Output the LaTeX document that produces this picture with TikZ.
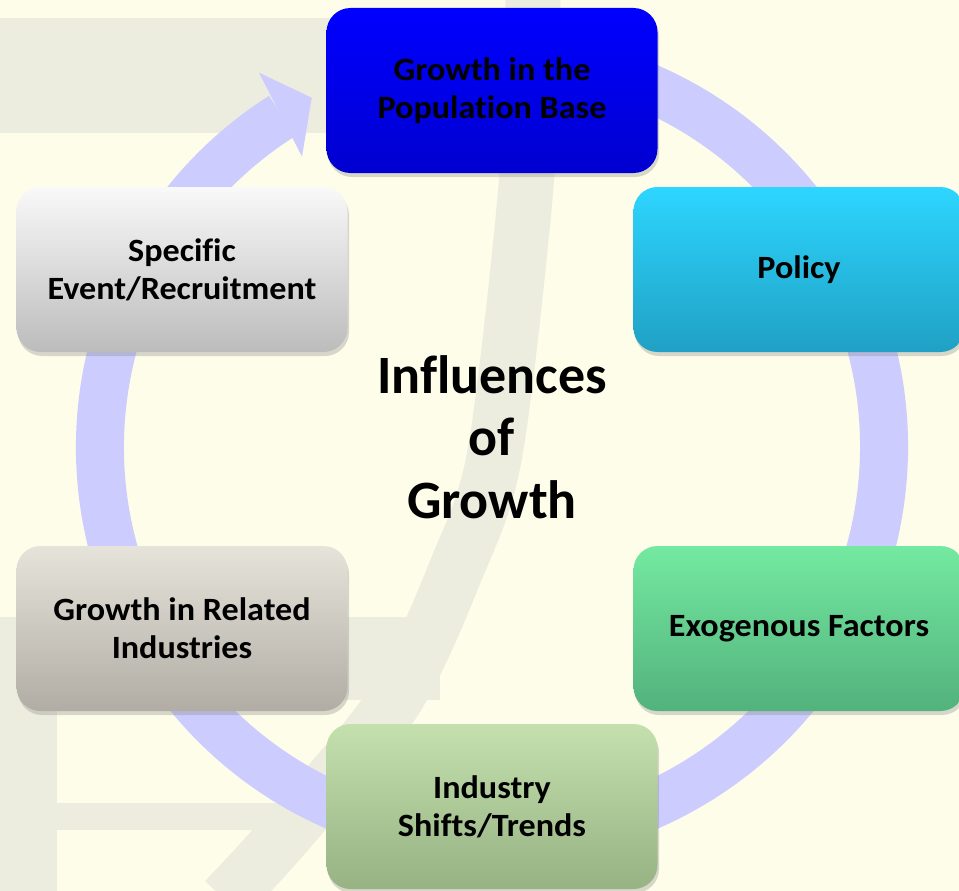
\documentclass[tikz,border=0pt]{standalone}
\usepackage{fontspec}
\setmainfont{Carlito}[Ligatures=NoCommon]
\newfontfamily\boxfont{Carlito}[Ligatures=NoCommon, FakeStretch=1.05]
\usetikzlibrary{shadows,calc}

\definecolor{paper}{HTML}{FDFDE9}
\definecolor{wmark}{HTML}{EDEDDF}
\definecolor{ringblue}{HTML}{CCCCFF}

\tikzset{
  factor/.style={rounded corners=24pt, minimum width=331pt, minimum height=165pt,
    inner sep=0pt, align=center, font=\boxfont\fontsize{32.5}{38}\selectfont\bfseries,
    drop shadow={opacity=0.3, shadow xshift=1.5pt, shadow yshift=-4pt}},
  hubtext/.style={align=center, font=\fontsize{54}{62.5}\selectfont\bfseries},
}

\begin{document}
\begin{tikzpicture}[x=1pt,y=1pt,yscale=-1]
\useasboundingbox (0,0) rectangle (959,891);
\clip (0,0) rectangle (959,891);

%Shape: Background
\fill[paper] (0,0) rectangle (959,891);
%Shape: Watermark
\fill[wmark] (0,18) rectangle (400,133);
\fill[wmark] (0,617) rectangle (440,700);
\fill[wmark] (0,700) rectangle (57,891);
\fill[wmark] (0,803) rectangle (330,830);
\draw[wmark, line width=55pt] plot[smooth] coordinates
  {(533,-10) (527,175) (495,453) (456,570) (395,700) (289,830) (225,900)};

%Shape: Circular arrow
\coordinate (hub) at (492,447);
\draw[ringblue, line width=48pt] ([shift={(-80:392)}]hub) arc[start angle=-80, end angle=237.6, radius=392];
\fill[ringblue] ([shift={(238.1:441)}]hub) -- ([shift={(242.7:393)}]hub)
  -- ([shift={(236.8:347)}]hub) -- cycle;

% Text Node
\node[factor, top color=blue, bottom color={rgb,255:red,0;green,0;blue,208}] (population) at (492,90.5) {Growth in the\\Population Base};
% Text Node
\node[factor, top color={rgb,255:red,45;green,214;blue,255}, bottom color={rgb,255:red,32;green,160;blue,196}] (policy) at (799,269.5) {Policy};
% Text Node
\node[factor, top color={rgb,255:red,116;green,233;blue,161}, bottom color={rgb,255:red,82;green,178;blue,124}] (exogenous) at (799,628.5) {Exogenous Factors};
% Text Node
\node[factor, top color={rgb,255:red,195;green,224;blue,173}, bottom color={rgb,255:red,151;green,178;blue,131}] (shifts) at (492,806.5) {Industry\\Shifts/Trends};
% Text Node
\node[factor, top color={rgb,255:red,230;green,227;blue,218}, bottom color={rgb,255:red,177;green,173;blue,165}] (related) at (182,628.5) {Growth in Related\\Industries};
% Text Node
\node[factor, top color={rgb,255:red,249;green,249;blue,249}, bottom color={rgb,255:red,188;green,188;blue,188}] (event) at (182,269.5) {Specific\\Event/Recruitment};

% Text Node
\node[hubtext] (influences) at (492,437) {Influences\\of\\Growth};

\end{tikzpicture}
\end{document}
